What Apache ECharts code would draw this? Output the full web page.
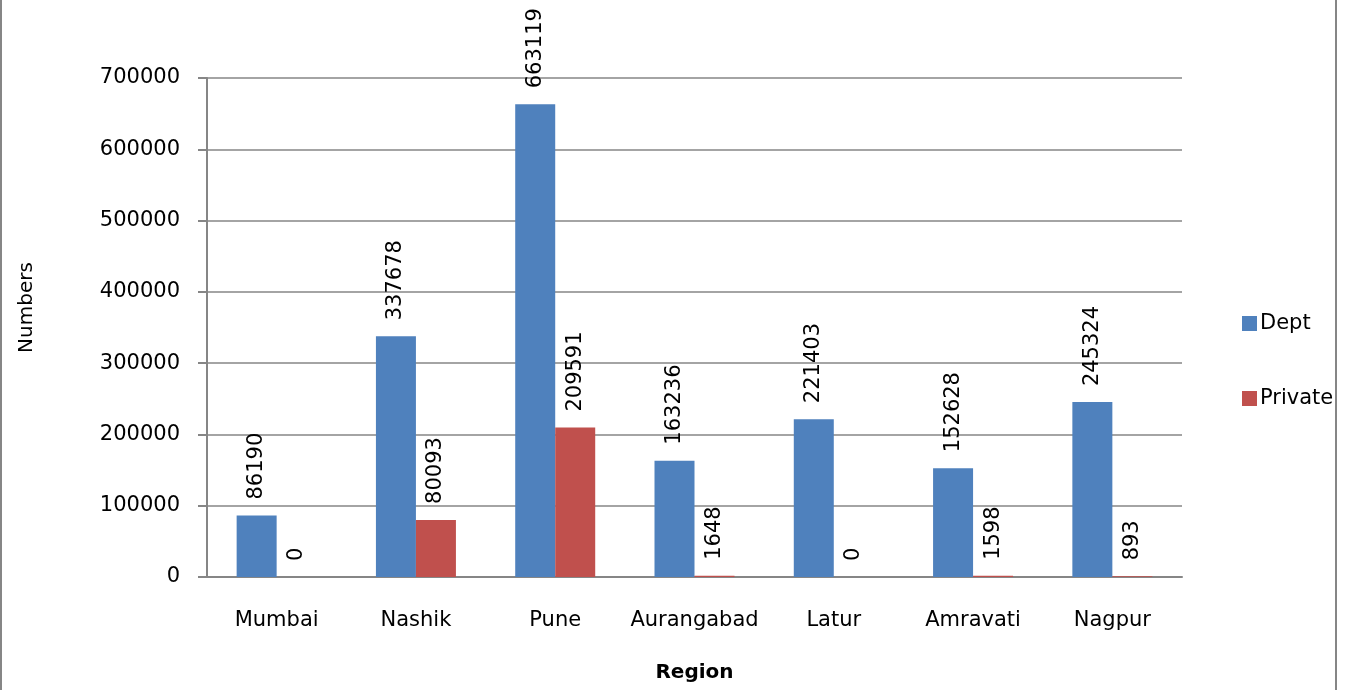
<!DOCTYPE html>
<html>
<head>
<meta charset="utf-8">
<script src="https://cdn.jsdelivr.net/npm/echarts@6/dist/echarts.min.js"></script>
<style>
html,body{margin:0;padding:0;background:#fff;}
#chart{width:1352px;height:690px;}
</style>
</head>
<body>
<div id="chart"></div>
<script>
const categories = ['Mumbai', 'Nashik', 'Pune', 'Aurangabad', 'Latur', 'Amravati', 'Nagpur'];
const deptValues = [86190, 337678, 663119, 163236, 221403, 152628, 245324];
const privateValues = [0, 80093, 209591, 1648, 0, 1598, 893];
const seriesNames = ['Dept', 'Private'];
const yTicks = { min: 0, max: 700000, interval: 100000 };

const FONT = 'DejaVu Sans';
const chart = echarts.init(document.getElementById('chart'));

const labelCfg = {
  show: true,
  position: 'top',
  rotate: 90,
  align: 'left',
  verticalAlign: 'middle',
  distance: 16,
  fontFamily: FONT,
  fontSize: 21,
  color: '#000'
};

chart.setOption({
  animation: false,
  backgroundColor: '#fff',
  textStyle: { fontFamily: FONT },
  graphic: [{
    type: 'rect',
    shape: { x: 1, y: -10, width: 1335, height: 710 },
    style: { fill: 'none', stroke: '#868686', lineWidth: 2 },
    silent: true
  }],
  grid: { left: 207, right: 170, top: 78, bottom: 113 },
  legend: {
    orient: 'vertical',
    left: 1237,
    top: 308,
    itemWidth: 15,
    itemHeight: 15,
    itemGap: 54,
    icon: 'rect',
    textStyle: { fontFamily: FONT, fontSize: 21, color: '#000', padding: [0, 0, 0, -2] },
    data: seriesNames
  },
  xAxis: {
    type: 'category',
    data: categories,
    name: 'Region',
    nameLocation: 'middle',
    nameGap: 86,
    nameTextStyle: { fontFamily: FONT, fontSize: 20, fontWeight: 'bold', color: '#000' },
    axisLine: { lineStyle: { color: '#868686', width: 2 } },
    axisTick: { show: false },
    axisLabel: { fontFamily: FONT, fontSize: 21, color: '#000', margin: 33, interval: 0 }
  },
  yAxis: {
    type: 'value',
    min: yTicks.min,
    max: yTicks.max,
    interval: yTicks.interval,
    name: 'Numbers',
    nameLocation: 'middle',
    nameRotate: 90,
    nameGap: 170,
    nameTextStyle: { fontFamily: FONT, fontSize: 20, color: '#000', padding: [0, 0, 0, 40] },
    axisLine: { show: true, lineStyle: { color: '#868686', width: 2 } },
    axisTick: { show: true, length: 9, lineStyle: { color: '#868686', width: 2 } },
    axisLabel: { fontFamily: FONT, fontSize: 21, color: '#000', margin: 27, formatter: function (v) { return String(v); } },
    splitLine: { lineStyle: { color: '#868686', width: 1.5 } }
  },
  series: [
    {
      name: seriesNames[0],
      type: 'bar',
      data: deptValues,
      barWidth: 40,
      barGap: '0%',
      itemStyle: { color: '#4F81BD' },
      label: labelCfg
    },
    {
      name: seriesNames[1],
      type: 'bar',
      data: privateValues,
      barWidth: 40,
      barGap: '0%',
      itemStyle: { color: '#C0504D' },
      label: labelCfg
    }
  ]
});
</script>
</body>
</html>
